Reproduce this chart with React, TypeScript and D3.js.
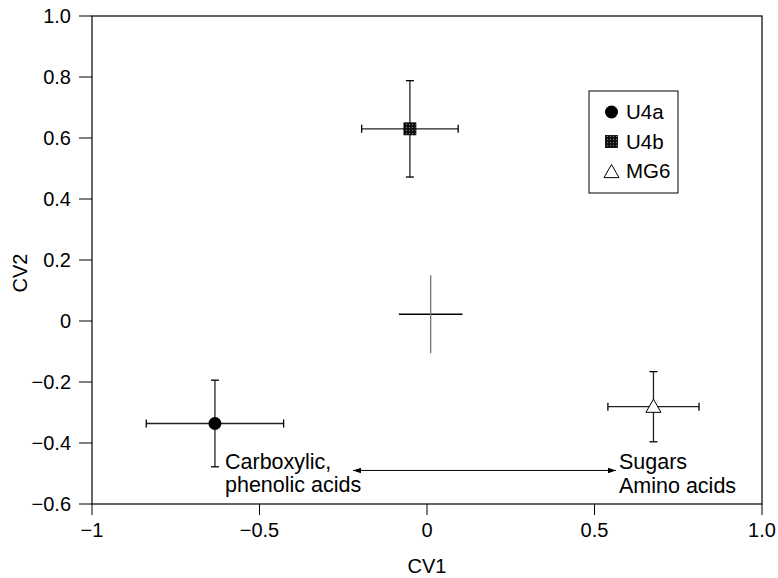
import React from "react";
import * as d3 from "d3";

const W = 778, H = 578;
const margin = { left: 92, right: 16, top: 16, bottom: 74 };

const groups = ["U4a", "U4b", "MG6", "centre"];
const cv1 = [-0.633, -0.051, 0.676, 0.011];
const cv2 = [-0.336, 0.63, -0.281, 0.022];
const cv1Err = [0.205, 0.144, 0.136, 0.095];
const cv2Err = [0.142, 0.158, 0.115, 0.128];
const markers = ["circle", "square", "triangle", "none"];

const xTicks = [-1, -0.5, 0, 0.5, 1.0];
const xTickLabels = ["\u22121", "\u22120.5", "0", "0.5", "1.0"];
const yTicks = [1.0, 0.8, 0.6, 0.4, 0.2, 0, -0.2, -0.4, -0.6];
const yTickLabels = ["1.0", "0.8", "0.6", "0.4", "0.2", "0", "\u22120.2", "\u22120.4", "\u22120.6"];

const arrowX = [-0.221, 0.564];
const arrowY = -0.49;
const leftLabel = ["Carboxylic,", "phenolic acids"];
const rightLabel = ["Sugars", "Amino acids"];

export default function App() {
  const x = d3.scaleLinear().domain([-1, 1]).range([margin.left, W - margin.right]);
  const y = d3.scaleLinear().domain([-0.6, 1.0]).range([H - margin.bottom, margin.top]);
  const font = "'Liberation Sans', Arial, Helvetica, sans-serif";
  const cap = 4;

  const marker = (m: string, cx: number, cy: number) => {
    if (m === "circle") return <circle cx={cx} cy={cy} r={6.5} fill="#000" />;
    if (m === "square")
      return <rect x={cx - 6} y={cy - 6} width={12} height={12} fill="url(#chk)" stroke="#000" strokeWidth={0.8} />;
    if (m === "triangle") {
      const s = 7.5;
      return (
        <path
          d={`M${cx},${cy - s}L${cx + s},${cy + s * 0.75}L${cx - s},${cy + s * 0.75}Z`}
          fill="#fff"
          stroke="#000"
          strokeWidth={1}
        />
      );
    }
    return null;
  };

  return (
    <svg width={W} height={H} style={{ position: "absolute", left: 0, top: 0, background: "#fff" }} fontFamily={font}>
      <defs>
        <pattern id="chk" width="3" height="3" patternUnits="userSpaceOnUse">
          <rect width="3" height="3" fill="#111" />
          <rect x="1" y="1" width="1" height="1" fill="#888" />
        </pattern>
        <marker id="ah" viewBox="0 0 10 10" refX="10" refY="5" markerWidth="8" markerHeight="8" orient="auto-start-reverse" markerUnits="userSpaceOnUse">
          <path d="M0,1.5L10,5L0,8.5Z" fill="#000" />
        </marker>
      </defs>

      {/* frame */}
      <rect x={x(-1)} y={y(1)} width={x(1) - x(-1)} height={y(-0.6) - y(1)} fill="none" stroke="#000" strokeWidth={1.2} />

      {/* y ticks */}
      {yTicks.map((t, i) => (
        <g key={"y" + i}>
          <line x1={x(-1) - 13} x2={x(-1)} y1={y(t)} y2={y(t)} stroke="#000" strokeWidth={1} />
          <text x={x(-1) - 21} y={y(t)} dy="0.36em" textAnchor="end" fontSize={20}>
            {yTickLabels[i]}
          </text>
        </g>
      ))}
      {/* x ticks */}
      {xTicks.map((t, i) => (
        <g key={"x" + i}>
          <line x1={x(t)} x2={x(t)} y1={y(-0.6)} y2={y(-0.6) + 11} stroke="#000" strokeWidth={1} />
          <text x={x(t)} y={y(-0.6) + 33} textAnchor="middle" fontSize={20}>
            {xTickLabels[i]}
          </text>
        </g>
      ))}

      <text x={(x(-1) + x(1)) / 2} y={573} textAnchor="middle" fontSize={20}>CV1</text>
      <text transform={`translate(27,273) rotate(-90)`} textAnchor="middle" fontSize={20}>CV2</text>

      {/* error bars */}
      {groups.map((g, i) => {
        const cx = x(cv1[i]), cy = y(cv2[i]);
        const x0 = x(cv1[i] - cv1Err[i]), x1 = x(cv1[i] + cv1Err[i]);
        const y0 = y(cv2[i] - cv2Err[i]), y1 = y(cv2[i] + cv2Err[i]);
        const hasCap = markers[i] !== "none";
        return (
          <g key={g}>
            <line x1={x0} x2={x1} y1={cy} y2={cy} stroke={hasCap ? "#222" : "#000"} strokeWidth={hasCap ? 1.3 : 1.5} />
            <line x1={cx} x2={cx} y1={y0} y2={y1} stroke={hasCap ? "#222" : "#777"} strokeWidth={1.3} />
            {hasCap && (
              <>
                <line x1={x0} x2={x0} y1={cy - cap} y2={cy + cap} stroke="#000" strokeWidth={1.3} />
                <line x1={x1} x2={x1} y1={cy - cap} y2={cy + cap} stroke="#000" strokeWidth={1.3} />
                <line x1={cx - cap} x2={cx + cap} y1={y0} y2={y0} stroke="#000" strokeWidth={1.3} />
                <line x1={cx - cap} x2={cx + cap} y1={y1} y2={y1} stroke="#000" strokeWidth={1.3} />
              </>
            )}
            {marker(markers[i], cx, cy)}
          </g>
        );
      })}

      {/* arrow */}
      <line x1={x(arrowX[0])} x2={x(arrowX[1])} y1={y(arrowY)} y2={y(arrowY)} stroke="#000" strokeWidth={1} markerStart="url(#ah)" markerEnd="url(#ah)" />
      <text fontSize={21.5}>
        <tspan x={225} y={469}>{leftLabel[0]}</tspan>
        <tspan x={225} y={492}>{leftLabel[1]}</tspan>
      </text>
      <text fontSize={21.5}>
        <tspan x={619} y={469}>{rightLabel[0]}</tspan>
        <tspan x={619} y={493}>{rightLabel[1]}</tspan>
      </text>

      {/* legend */}
      <g>
        <rect x={589} y={91} width={89} height={102} fill="#fff" stroke="#000" strokeWidth={1} />
        {groups.slice(0, 3).map((g, i) => (
          <g key={"lg" + g}>
            {marker(markers[i], 611.5, 112 + i * 29.5 + (markers[i] === "triangle" ? 1 : 0))}
            <text x={626} y={112 + i * 29.5} dy="0.36em" fontSize={20.5}>{g}</text>
          </g>
        ))}
      </g>
    </svg>
  );
}
